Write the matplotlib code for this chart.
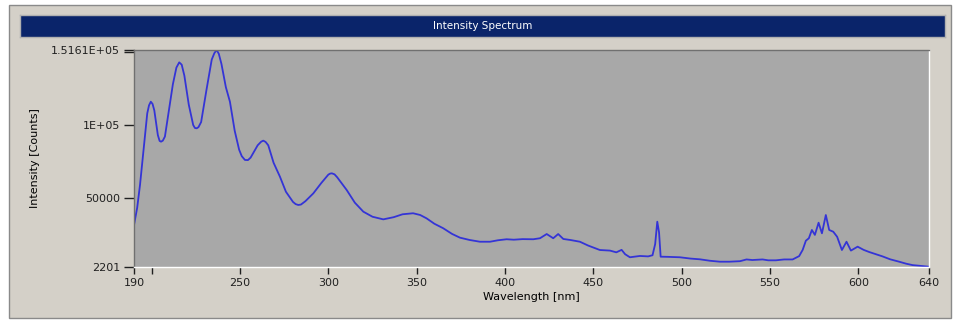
#!/usr/bin/env python3

import numpy as np
import matplotlib
matplotlib.use('Agg')
import matplotlib.pyplot as plt
from matplotlib.patches import Rectangle

# spectrum
wavelength = [190, 191.8, 193.4, 195.8, 197.5, 198.5, 199.5, 200.5, 201.5, 203.5,
              204.5, 205.3, 206.3, 207.5, 209.5, 212, 214, 215.6, 217, 218.5,
              221, 223.5, 224.5, 225.5, 226.5, 228, 231, 234, 235.5, 236.8,
              238, 239.5, 242, 244.3, 247, 249.5, 251, 252.8, 254.5, 256,
              260, 262, 263.2, 264.5, 266, 269, 272.6, 276, 280, 281.5,
              283, 284.5, 287, 291.5, 296, 300, 301, 302, 303.5, 305,
              310.4, 315, 319.8, 325, 331.1, 337, 342, 348, 352,
              355.6, 360, 365, 370, 374.5, 380, 385.8, 391.5, 396, 400.9,
              405, 410, 416, 419.8, 423.6, 427.3, 430.1, 433, 437, 442.4,
              447, 453.7, 459.4, 463, 466, 468, 470.7, 476.4, 481, 483.5,
              485, 486.2, 487.2, 488.1, 492, 499, 505, 510.3, 516, 521.6,
              527, 533, 536.7, 540, 545.8, 549, 553.3, 558, 562.8, 566.5,
              568.5, 570.3, 572, 573.7, 575.4, 577.5, 579.4, 581.6, 583.5, 585.8,
              588, 590.7, 593.3, 595.8, 599.6, 603, 606.2, 610, 613.7, 618,
              623.1, 627, 630.7, 635, 640]
intensity = [31100, 43000, 58700, 88000, 108000, 113500, 116000, 114500, 110000, 93000,
             89000, 88500, 89200, 92000, 108000, 128000, 139500, 143100, 141500, 134000,
             114000, 100000, 97900, 97700, 98500, 102000, 124000, 145000, 149500, 151600,
             149000, 142000, 126000, 116000, 96000, 83000, 78500, 75900, 75800, 77500,
             86000, 88500, 89200, 88300, 86000, 74000, 64400, 54000, 47000, 45500,
             44900, 45200, 47500, 52900, 60000, 65800, 66500, 66700, 66000, 64000,
             55200, 46500, 40300, 36800, 35000, 36500, 38500, 39200, 38000,
             35700, 32000, 28900, 25000, 22400, 20800, 19600, 19600, 20600, 21300,
             21000, 21400, 21300, 22000, 24900, 22000, 24900, 21500, 20800, 19600,
             17000, 13900, 13500, 12300, 14000, 11000, 8900, 9800, 9500, 10300,
             18000, 33400, 26000, 9300, 9200, 8900, 8000, 7500, 6500, 5850,
             5850, 6200, 7400, 7000, 7400, 6800, 6800, 7400, 7400, 9700,
             14000, 20300, 22000, 27700, 24300, 32700, 25400, 38000, 27700, 26500,
             23000, 13900, 19600, 13500, 16200, 14000, 12500, 11000, 9500, 7500,
             5850, 4500, 3500, 3000, 2400]

xticks = [190, 250, 300, 350, 400, 450, 500, 550, 600, 640]
yticks = [2201, 50000, 100000, 151610]
ytick_labels = ['2201', '50000', '1E+05', '1.5161E+05']

panel_col = '#d4d0c8'

fig = plt.figure(figsize=(9.56, 3.23), dpi=100)
fig.patch.set_facecolor('white')

# window frame behind everything
frame = Rectangle((9/956, 1-318/323), 942/956, 313/323, transform=fig.transFigure,
                  facecolor=panel_col, edgecolor='#8a8a8a', lw=1.0, zorder=-10)
fig.patches.append(frame)

# title bar
tb = fig.add_axes([20/956, 1-37/323, 925/956, 22/323])
tb.set_facecolor('#0a246a')
tb.set_xticks([])
tb.set_yticks([])
for s in tb.spines.values():
    s.set_color('#b0b0b0')
    s.set_linewidth(1.0)
tb.text(0.5, 0.5, 'Intensity Spectrum', color='white', fontsize=7.5,
        ha='center', va='center', transform=tb.transAxes)

ax = fig.add_axes([134/956, 1-267/323, 795/956, 217/323])
ax.set_facecolor('#a8a8a8')
ax.plot(wavelength, intensity, color='#3434d6', lw=1.3)

ax.set_xlim(190, 640)
ax.set_ylim(2201, 151610)
ax.set_xticks(xticks)
ax.set_xticks([200], minor=True)
ax.set_yticks(yticks)
ax.set_yticklabels(ytick_labels)
ax.set_yticks([150000], minor=True)
ax.tick_params(axis='both', which='both', direction='out', colors='#202020',
               labelsize=8, width=1.0)
ax.tick_params(axis='x', which='both', length=5, pad=3)
ax.tick_params(axis='y', which='both', length=7, pad=3)

ax.spines['top'].set_color('#707070')
ax.spines['left'].set_color('#707070')
ax.spines['bottom'].set_color('white')
ax.spines['right'].set_color('white')
for s in ax.spines.values():
    s.set_linewidth(1.0)

ax.set_xlabel('Wavelength [nm]', fontsize=8, labelpad=3)
ax.set_ylabel('Intensity [Counts]', fontsize=8, labelpad=4)
ax.yaxis.set_label_coords(-0.118, 0.5)

plt.savefig('out.png', dpi=100, facecolor=fig.get_facecolor())
